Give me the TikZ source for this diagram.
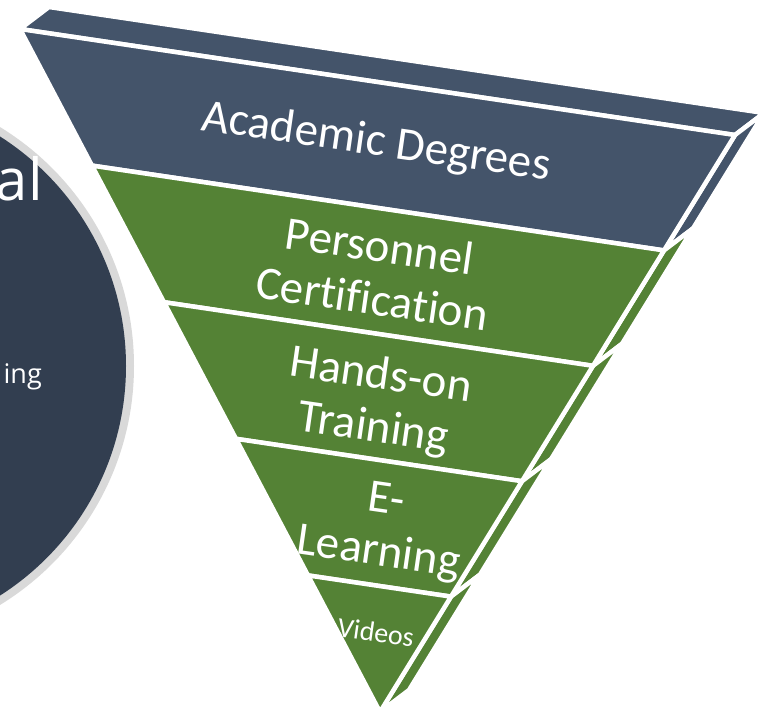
\documentclass[tikz,border=0pt]{standalone}
\usepackage{fontspec}
\setmainfont{Carlito}[Ligatures=NoCommon]
\newfontfamily\circlefont{Open Sans}
\usetikzlibrary{calc}
\definecolor{degreeBlue}{RGB}{68,84,106}
\definecolor{trainGreen}{RGB}{84,130,53}
\definecolor{circleNavy}{RGB}{50,62,80}
\definecolor{ringGray}{RGB}{217,217,217}
\tikzset{face/.style={draw=white,line width=4.5pt},
 bandtext/.style={text=white,align=center,rotate=-8.2,inner sep=0pt,
   font=\fontsize{47}{53}\selectfont},
 every picture/.style={line join=round,line cap=round}}

\begin{document}
\begin{tikzpicture}[x=1pt,y=-1pt]
\useasboundingbox (0,0) rectangle (767,713);
\clip (0,0) rectangle (767,713);
% circle on the left, cut by the page edge
\fill[ringGray] (-146,366) circle (280);
\fill[circleNavy] (-146,366) circle (272);
\node[text=white,anchor=base east,inner sep=0pt,font=\circlefont\fontsize{58}{58}\selectfont] (al) at (43,200) {al};
\node[text=white,anchor=base east,inner sep=0pt,font=\circlefont\fontsize{27}{27}\selectfont] (ing) at (42,383) {ing};
% corners of the front face and depth
\coordinate (A) at (20,29);
\coordinate (B) at (735,135);
\coordinate (C) at (380,712);
\coordinate (d) at (29,-22);
\coordinate (L1) at ($(A)!0.2!(C)$);
\coordinate (L2) at ($(A)!0.4!(C)$);
\coordinate (L3) at ($(A)!0.6!(C)$);
\coordinate (L4) at ($(A)!0.8!(C)$);
\coordinate (R1) at ($(B)!0.2!(C)$);
\coordinate (R2) at ($(B)!0.4!(C)$);
\coordinate (R3) at ($(B)!0.6!(C)$);
\coordinate (R4) at ($(B)!0.8!(C)$);
% top and side faces
\path[face,fill=degreeBlue] (A) -- ($(A)+(d)$) -- ($(B)+(d)$) -- (B) -- cycle;
\path[face,fill=degreeBlue] (B) -- ($(B)+(d)$) -- ($(R1)+(d)$) -- (R1) -- cycle;
\path[face,fill=trainGreen] (R1) -- ($(R1)+(d)$) -- ($(R2)+(d)$) -- (R2) -- cycle;
\path[face,fill=trainGreen] (R2) -- ($(R2)+(d)$) -- ($(R3)+(d)$) -- (R3) -- cycle;
\path[face,fill=trainGreen] (R3) -- ($(R3)+(d)$) -- ($(R4)+(d)$) -- (R4) -- cycle;
\path[face,fill=trainGreen] (R4) -- ($(R4)+(d)$) -- ($(C)+(d)$) -- (C) -- cycle;
% front bands
\path[face,fill=degreeBlue] (A) -- (B) -- (R1) -- (L1) -- cycle;
\path[face,fill=trainGreen] (L1) -- (R1) -- (R2) -- (L2) -- cycle;
\path[face,fill=trainGreen] (L2) -- (R2) -- (R3) -- (L3) -- cycle;
\path[face,fill=trainGreen] (L3) -- (R3) -- (R4) -- (L4) -- cycle;
\path[face,fill=trainGreen] (L4) -- (R4) -- (C) -- cycle;
% labels
\node[bandtext] (degrees) at (376,143) {Academic Degrees};
\node[bandtext] (certif) at (376,272) {Personnel\\Certification};
\node[bandtext] (handson) at (377,403) {Hands-on\\Training};
\node[bandtext] (elearn) at (382,528) {E-\\Learning};
\node[bandtext,font=\fontsize{28}{30}\selectfont] (videos) at (376,632) {Videos};
\end{tikzpicture}
\end{document}
